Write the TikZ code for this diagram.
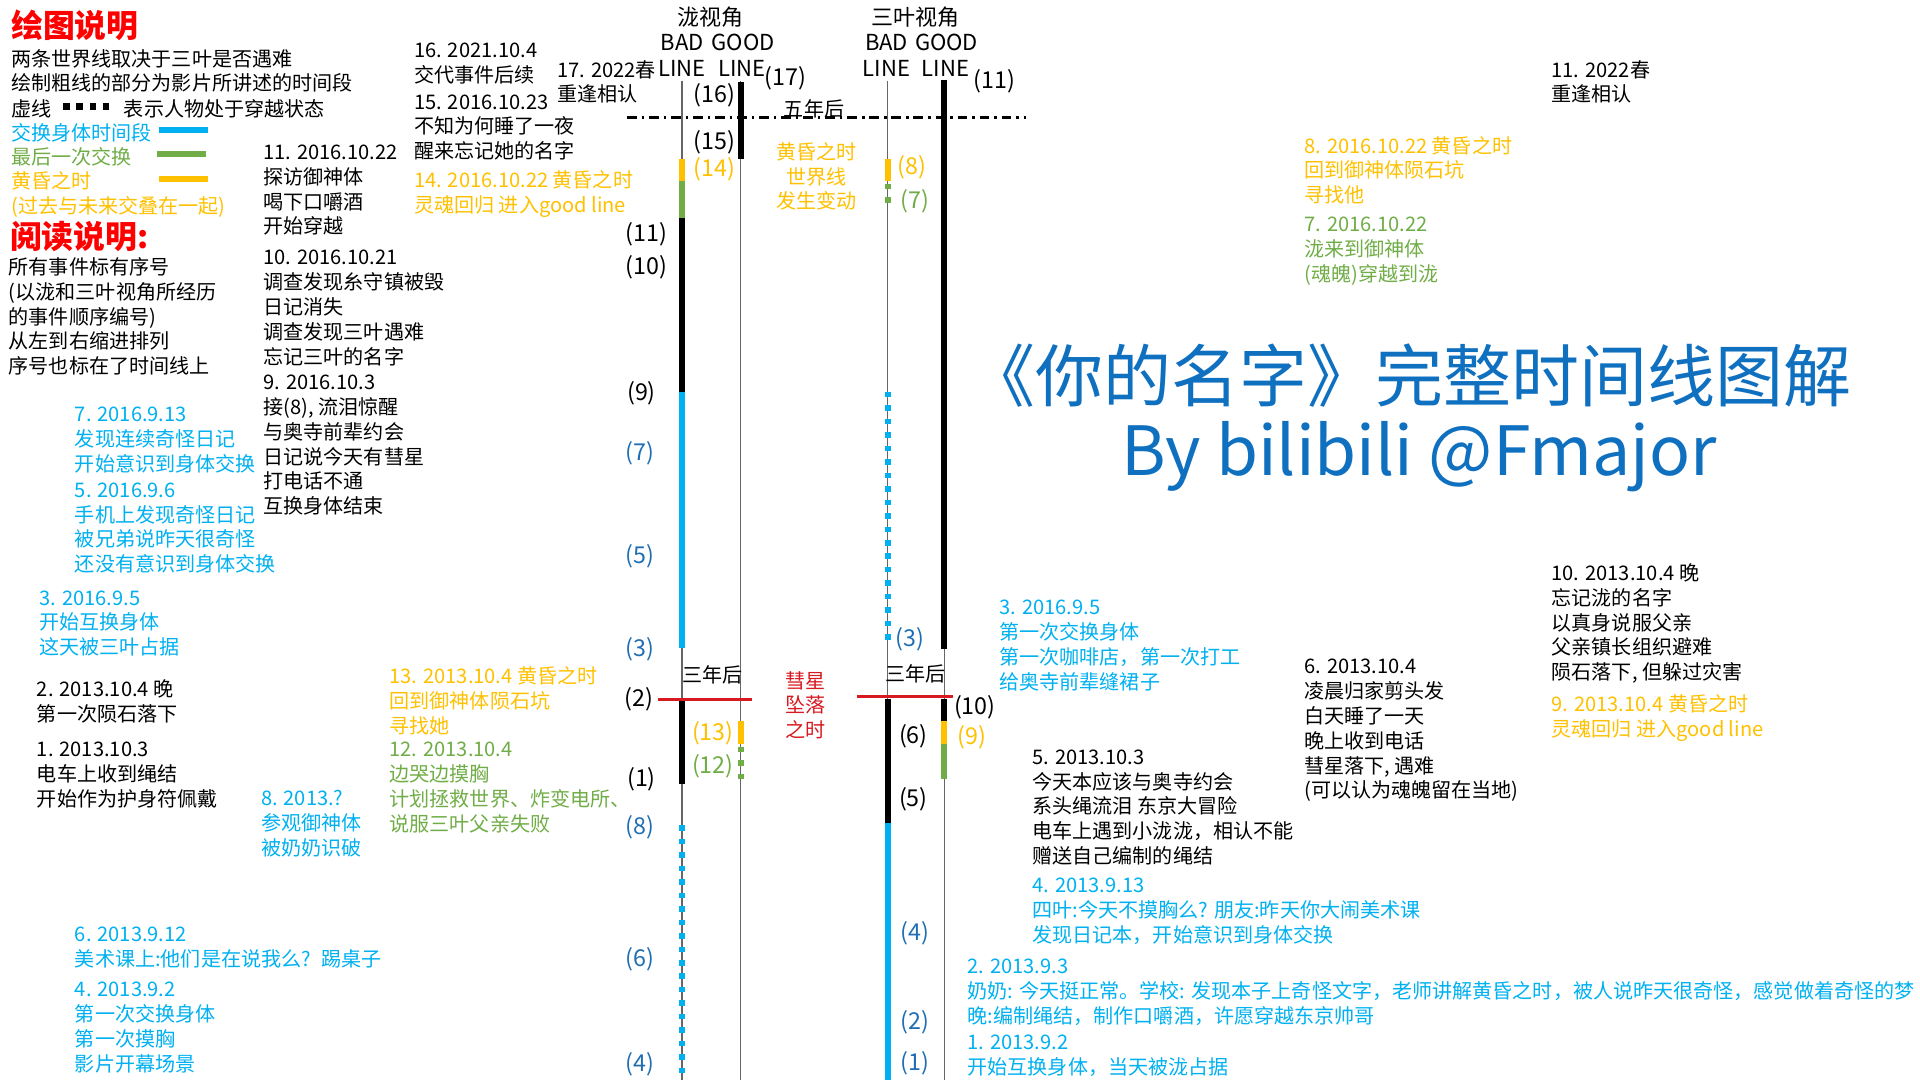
\documentclass[tikz,border=0pt]{standalone}
\usepackage{fontspec}
\setmainfont{Noto Sans CJK SC}
\usepackage{xcolor}
\definecolor{swapblue}{RGB}{0,176,240}
\definecolor{numblue}{RGB}{31,110,180}
\definecolor{titleblue}{RGB}{16,112,192}
\definecolor{lastgreen}{RGB}{112,173,71}
\definecolor{duskyellow}{RGB}{255,192,0}
\definecolor{headred}{RGB}{255,0,0}
\definecolor{cometred}{RGB}{215,25,32}
\newcommand\evtfont{\fontsize{16.4}{20.3}\selectfont}
\newcommand\numfont{\fontsize{19}{22}\selectfont}
\newcommand\hdrfont{\fontsize{18}{21}\selectfont}
\newcommand\bigredfont{\fontsize{26}{30}\selectfont\bfseries}
\newcommand\titlefont{\fontsize{55.5}{62}\selectfont}
\tikzset{
  evt/.style={anchor=north west, inner sep=0pt, align=left, font=\evtfont,
              yshift=6pt, execute at begin node=\strut},
  midtxt/.style={anchor=north, inner sep=0pt, align=center, font=\evtfont,
                 yshift=6pt, execute at begin node=\strut},
  numlbl/.style={anchor=west, inner sep=0pt, font=\numfont},
  hdr/.style={inner sep=0pt, font=\hdrfont},
  axisline/.style={draw=black!60, line width=0.9pt},
  bar/.style={line width=5pt},
  sqdots/.style={line width=5pt, dash pattern=on 4.5pt off 6.5pt},
  cometline/.style={draw=cometred, line width=2.5pt},
}
\begin{document}
\begin{tikzpicture}[x=1pt, y=-1pt]
\useasboundingbox (0,0) rectangle (1568,882);

% legend
\node[anchor=west, inner sep=0pt, font=\bigredfont, headred] (drawhead) at (9,21) {绘图说明};
\node[evt] (legtext) at (9,46) {两条世界线取决于三叶是否遇难\\绘制粗线的部分为影片所讲述的时间段};
\node[evt] (dashword) at (9,87) {虚线};
\node[evt] (dashmean) at (101,87) {表示人物处于穿越状态};
\draw[line width=5pt, dash pattern=on 5.5pt off 5.3pt] (51.5,87) -- (90,87);
\node[evt, swapblue] (legblue) at (9,106) {交换身体时间段};
\node[evt, lastgreen] (leggreen) at (9,126) {最后一次交换};
\node[evt, duskyellow] (legyellow) at (9,146) {黄昏之时\\(过去与未来交叠在一起)};
\draw[bar, swapblue] (130,106) -- (170,106);
\draw[bar, lastgreen] (128,126) -- (168,126);
\draw[bar, duskyellow] (130,146) -- (170,146);
\node[anchor=west, inner sep=0pt, font=\bigredfont, headred] (readhead) at (8,193) {阅读说明:};
\node[evt] (readtext) at (7,216) {所有事件标有序号\\(以泷和三叶视角所经历\\的事件顺序编号)\\从左到右缩进排列\\序号也标在了时间线上};

% headers
\node[hdr] (takihead) at (580,14) {泷视角};
\node[hdr] (takibad) at (557,35) {BAD};
\node[hdr] (takigood) at (607,35) {GOOD};
\node[hdr] (takibadl) at (557,56) {LINE};
\node[hdr] (takigoodl) at (606,56) {LINE};
\node[hdr] (mitsuhead) at (748,14) {三叶视角};
\node[hdr] (mitsubad) at (724,35) {BAD};
\node[hdr] (mitsugood) at (773,35) {GOOD};
\node[hdr] (mitsubadl) at (724,56) {LINE};
\node[hdr] (mitsugoodl) at (772,56) {LINE};

% thin world lines
\draw[axisline] (557,66) -- (557,882);
\draw[axisline] (605,66) -- (605,882);
\draw[axisline] (725,66) -- (725,882);
\draw[axisline] (771,66) -- (771,882);

% five years later
\draw[line width=2pt, dash pattern=on 8pt off 4pt on 2pt off 4pt] (512,96) -- (838,96);
\node[evt] (fiveyears) at (640,87) {五年后};

% taki bad line
\draw[bar, duskyellow] (557,130) -- (557,148);
\draw[bar, lastgreen] (557,148) -- (557,178);
\draw[bar, black] (557,178) -- (557,320);
\draw[bar, swapblue] (557,320) -- (557,529);
\draw[bar, black] (557,571) -- (557,640);
\draw[sqdots, swapblue] (557,674) -- (557,882);
% taki good line
\draw[bar, black] (605,67) -- (605,130);
\draw[bar, duskyellow] (605,589) -- (605,608);
\draw[sqdots, lastgreen] (605,610) -- (605,636);
% mitsuha bad line
\draw[bar, duskyellow] (725,130) -- (725,148);
\draw[sqdots, lastgreen] (725,150) -- (725,172);
\draw[sqdots, swapblue] (725,320) -- (725,528);
\draw[bar, black] (725,571) -- (725,672);
\draw[bar, swapblue] (725,672) -- (725,882);
% mitsuha good line
\draw[bar, black] (771,65) -- (771,530);
\draw[bar, black] (771,571) -- (771,589);
\draw[bar, duskyellow] (771,589) -- (771,608);
\draw[bar, lastgreen] (771,608) -- (771,636);

% comet
\draw[cometline] (537,571) -- (614,571);
\draw[cometline] (700,569) -- (778,569);
\node[evt] (takithree) at (557,549) {三年后};
\node[evt] (mitsuthree) at (723,548) {三年后};
\node[midtxt, cometred] (cometfall) at (658,554) {彗星\\坠落\\之时};
\node[midtxt, duskyellow] (shift) at (667,122) {黄昏之时\\世界线\\发生变动};

% taki labels
\node[numlbl] (tl11) at (511,191) {(11)};
\node[numlbl] (tl10) at (511,218) {(10)};
\node[numlbl] (tl9) at (512,321) {(9)};
\node[numlbl, numblue] (tl7) at (511,370) {(7)};
\node[numlbl, numblue] (tl5) at (511,454) {(5)};
\node[numlbl, numblue] (tl3) at (511,530) {(3)};
\node[numlbl] (tl2) at (510,571) {(2)};
\node[numlbl] (tl1) at (512,636) {(1)};
\node[numlbl, numblue] (tl8) at (511,676) {(8)};
\node[numlbl, numblue] (tl6) at (511,783) {(6)};
\node[numlbl, numblue] (tl4) at (511,869) {(4)};
\node[numlbl] (tl16) at (566,78) {(16)};
\node[numlbl] (tl15) at (566,116) {(15)};
\node[numlbl, duskyellow] (tl14) at (566,138) {(14)};
\node[numlbl, duskyellow] (tl13) at (565,599) {(13)};
\node[numlbl, lastgreen] (tl12) at (565,626) {(12)};
\node[numlbl] (tl17) at (624,64) {(17)};

% mitsuha labels
\node[numlbl] (ml11) at (795,66) {(11)};
\node[numlbl, duskyellow] (ml8) at (733,137) {(8)};
\node[numlbl, lastgreen] (ml7) at (735,164) {(7)};
\node[numlbl, numblue] (ml3) at (731,522) {(3)};
\node[numlbl] (ml10) at (779,578) {(10)};
\node[numlbl, duskyellow] (ml9) at (782,602) {(9)};
\node[numlbl] (ml6) at (734,601) {(6)};
\node[numlbl] (ml5) at (734,653) {(5)};
\node[numlbl, numblue] (ml4) at (735,762) {(4)};
\node[numlbl, numblue] (ml2) at (735,835) {(2)};
\node[numlbl, numblue] (ml1) at (735,868) {(1)};

% taki events
\node[evt] (taki11) at (215,124) {11. 2016.10.22\\探访御神体\\喝下口嚼酒\\开始穿越};
\node[evt] (taki10) at (215,210) {10. 2016.10.21\\调查发现糸守镇被毁\\日记消失\\调查发现三叶遇难\\忘记三叶的名字};
\node[evt] (taki9) at (215,312) {9. 2016.10.3\\接(8), 流泪惊醒\\与奥寺前辈约会\\日记说今天有彗星\\打电话不通\\互换身体结束};
\node[evt, swapblue] (taki7) at (61,338) {7. 2016.9.13\\发现连续奇怪日记\\开始意识到身体交换};
\node[evt, swapblue] (taki5) at (61,400) {5. 2016.9.6\\手机上发现奇怪日记\\被兄弟说昨天很奇怪\\还没有意识到身体交换};
\node[evt, swapblue] (taki3) at (32,488) {3. 2016.9.5\\开始互换身体\\这天被三叶占据};
\node[evt] (taki2) at (30,561) {2. 2013.10.4 晚\\第一次陨石落下};
\node[evt] (taki1) at (30,612) {1. 2013.10.3\\电车上收到绳结\\开始作为护身符佩戴};
\node[evt, swapblue] (taki8) at (213,651) {8. 2013.?\\参观御神体\\被奶奶识破};
\node[evt, swapblue] (taki6) at (61,763) {6. 2013.9.12\\美术课上:他们是在说我么? \ 踢桌子};
\node[evt, swapblue] (taki4) at (61,808) {4. 2013.9.2\\第一次交换身体\\第一次摸胸\\影片开幕场景};
\node[evt] (taki16) at (338,41) {16. 2021.10.4\\交代事件后续};
\node[evt] (taki15) at (338,83) {15. 2016.10.23\\不知为何睡了一夜\\醒来忘记她的名字};
\node[evt, duskyellow] (taki14) at (338,145) {14. 2016.10.22 黄昏之时\\灵魂回归 进入good line};
\node[evt] (taki17) at (455,55) {17. 2022春\\重逢相认};
\node[evt, duskyellow] (taki13) at (318,550) {13. 2013.10.4 黄昏之时\\回到御神体陨石坑\\寻找她};
\node[evt, lastgreen] (taki12) at (318,612) {12. 2013.10.4\\边哭边摸胸\\计划拯救世界、炸变电所、\\说服三叶父亲失败};

% mitsuha events
\node[evt] (mitsu11) at (1267,55) {11. 2022春\\重逢相认};
\node[evt, duskyellow] (mitsu8) at (1065,117) {8. 2016.10.22 黄昏之时\\回到御神体陨石坑\\寻找他};
\node[evt, lastgreen] (mitsu7) at (1065,183) {7. 2016.10.22\\泷来到御神体\\(魂魄)穿越到泷};
\node[evt, swapblue] (mitsu3) at (816,496) {3. 2016.9.5\\第一次交换身体\\第一次咖啡店，第一次打工\\给奥寺前辈缝裙子};
\node[evt] (mitsu6) at (1065,544) {6. 2013.10.4\\凌晨归家剪头发\\白天睡了一天\\晚上收到电话\\彗星落下, 遇难\\(可以认为魂魄留在当地)};
\node[evt] (mitsu10) at (1267,466) {10. 2013.10.4 晚\\忘记泷的名字\\以真身说服父亲\\父亲镇长组织避难\\陨石落下, 但躲过灾害};
\node[evt, duskyellow] (mitsu9) at (1267,573) {9. 2013.10.4 黄昏之时\\灵魂回归 进入good line};
\node[evt] (mitsu5) at (843,618) {5. 2013.10.3\\今天本应该与奥寺约会\\系头绳流泪 东京大冒险\\电车上遇到小泷泷，相认不能\\赠送自己编制的绳结};
\node[evt, swapblue] (mitsu4) at (843,723) {4. 2013.9.13\\四叶:今天不摸胸么? 朋友:昨天你大闹美术课\\发现日记本，开始意识到身体交换};
\node[evt, swapblue] (mitsu2) at (790,789) {2. 2013.9.3\\奶奶: 今天挺正常。学校: 发现本子上奇怪文字，老师讲解黄昏之时，被人说昨天很奇怪，感觉做着奇怪的梦\\晚:编制绳结，制作口嚼酒，许愿穿越东京帅哥};
\node[evt, swapblue] (mitsu1) at (790,851) {1. 2013.9.2\\开始互换身体，当天被泷占据};

% title
\node[inner sep=0pt, font=\titlefont, titleblue] (title) at (1151,307) {《你的名字》完整时间线图解};
\node[inner sep=0pt, font=\titlefont, titleblue] (byline) at (1159,373) {By bilibili @Fmajor};
\end{tikzpicture}
\end{document}
